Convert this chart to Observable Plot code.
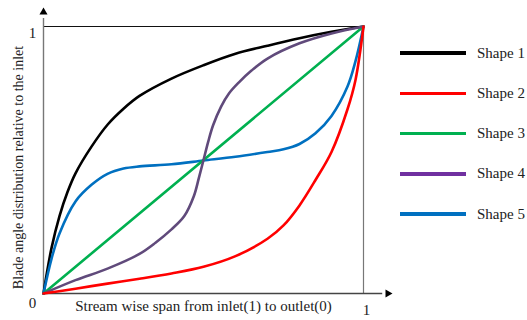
<!DOCTYPE html>
<html>
<head>
<meta charset="utf-8">
<script src="https://cdn.jsdelivr.net/npm/d3@7"></script>
<script src="https://cdn.jsdelivr.net/npm/@observablehq/plot@0.6"></script>
<style>
  body { margin: 0; background: #fff; }
  #chart { position: relative; width: 527px; height: 320px; }
  .legend { position: absolute; left: 400px; top: 0; font-family: "Liberation Serif", serif; font-size: 15px; color: #222; }
  .item { position: absolute; left: 0; display: flex; align-items: center; white-space: nowrap; height: 18px; }
  .swatch { width: 66px; height: 3.5px; margin-right: 11px; }
</style>
</head>
<body>
<div id="chart"></div>
<script>
// Blade angle distributions along the stream-wise span (normalised 0..1)
const shapeNames = ["Shape 1", "Shape 2", "Shape 3", "Shape 4", "Shape 5"];
const lineColors = ["#000000", "#ff0000", "#00b050", "#604a7b", "#0070c0"];
const legendColors = ["#000000", "#ff0000", "#00b050", "#7030a0", "#0070c0"];

const shape1X = [0, 0.025, 0.05, 0.075, 0.1, 0.15, 0.2, 0.25, 0.3, 0.4, 0.5, 0.6, 0.7, 0.8, 0.9, 1];
const shape1Y = [0, 0.17, 0.29, 0.38, 0.45, 0.55, 0.632, 0.692, 0.74, 0.805, 0.855, 0.898, 0.928, 0.956, 0.98, 1];

const shape2X = [0, 0.1, 0.2, 0.3, 0.4, 0.5, 0.6, 0.7, 0.75, 0.8, 0.85, 0.9, 0.95, 0.975, 1];
const shape2Y = [0, 0.018, 0.037, 0.055, 0.075, 0.1, 0.14, 0.205, 0.255, 0.33, 0.425, 0.53, 0.69, 0.8, 1];

const shape3X = [0, 1];
const shape3Y = [0, 1];

const shape4X = [0, 0.1, 0.2, 0.3, 0.35, 0.4, 0.44, 0.47, 0.485, 0.5, 0.515, 0.53, 0.555, 0.58, 0.61, 0.65, 0.7, 0.8, 0.9, 1];
const shape4Y = [0, 0.05, 0.093, 0.148, 0.19, 0.24, 0.29, 0.365, 0.43, 0.5, 0.57, 0.63, 0.7, 0.75, 0.79, 0.835, 0.88, 0.937, 0.974, 1];

const shape5X = [0, 0.025, 0.05, 0.1, 0.15, 0.2, 0.25, 0.3, 0.4, 0.5, 0.6, 0.7, 0.75, 0.8, 0.85, 0.9, 0.95, 0.975, 1];
const shape5Y = [0, 0.13, 0.225, 0.345, 0.407, 0.448, 0.468, 0.476, 0.484, 0.498, 0.512, 0.53, 0.54, 0.56, 0.6, 0.665, 0.775, 0.87, 1];

// Corner tick labels at the ends of the unit axes
const tickX = [0, 0, 1];
const tickY = [0, 1, 0];
const tickText = ["0", "1", "1"];

const xLabel = "Stream wise span from inlet(1) to outlet(0)";
const yLabel = "Blade angle distribution relative to the inlet";

const seriesX = [shape1X, shape2X, shape3X, shape4X, shape5X];
const seriesY = [shape1Y, shape2Y, shape3Y, shape4Y, shape5Y];
const rows = seriesX.flatMap((xs, i) =>
  xs.map((x, j) => ({ shape: shapeNames[i], x, y: seriesY[i][j] }))
);
const drawOrder = ["Shape 1", "Shape 5", "Shape 3", "Shape 4", "Shape 2"];
rows.sort((a, b) => drawOrder.indexOf(a.shape) - drawOrder.indexOf(b.shape));

const ticks = tickText.map((t, i) => ({ x: tickX[i], y: tickY[i], t }));
const tickOffsets = [[-11, 10], [-11, 7], [3, 17]];

// axis arrows run a little past the unit frame
const xAxisEnd = 1.06, xArrowAt = 1.076;
const yAxisEnd = 1.03, yArrowAt = 1.054;

const plot = Plot.plot({
  width: 527,
  height: 320,
  marginLeft: 43,
  marginRight: 164,
  marginTop: 26,
  marginBottom: 27,
  x: { domain: [0, 1], axis: null },
  y: { domain: [0, 1], axis: null },
  color: { domain: shapeNames, range: lineColors },
  style: { fontFamily: "'Liberation Serif', serif", fontSize: "15px", color: "#222", background: "#fff" },
  marks: [
    // frame: top and right edges
    Plot.ruleY([1], { x1: 0, x2: 1, stroke: "#111", strokeWidth: 1.2 }),
    Plot.ruleX([1], { y1: 0, y2: 1, stroke: "#777", strokeWidth: 1.2 }),
    // axes with arrowheads
    Plot.ruleX([0], { y1: 0, y2: yAxisEnd, stroke: "#777", strokeWidth: 1.4 }),
    Plot.ruleY([0], { x1: 0, x2: xAxisEnd, stroke: "#444", strokeWidth: 1.4 }),
    Plot.dot([0], { x: 0, y: yArrowAt, symbol: "triangle", r: 3, fill: "#000", stroke: "none" }),
    Plot.dot([0], { x: xArrowAt, y: 0, symbol: "triangle", r: 3, rotate: 90, fill: "#000", stroke: "none" }),
    // curves
    Plot.line(rows, { x: "x", y: "y", z: "shape", stroke: "shape", curve: "catmull-rom", strokeWidth: 2.6 }),
    // tick labels
    ...ticks.map((d, i) =>
      Plot.text([d], { x: "x", y: "y", text: "t", dx: tickOffsets[i][0], dy: tickOffsets[i][1], fontSize: 15, fill: "#222" })
    ),
    // axis titles
    Plot.text([xLabel], { frameAnchor: "bottom", dy: 17, fill: "#222" }),
    Plot.text([yLabel], { frameAnchor: "left", textAnchor: "middle", rotate: -90, dx: -25, dy: 7.5, fontSize: 14, fill: "#222" })
  ]
});

const chart = document.getElementById("chart");
chart.appendChild(plot);

// legend
const legend = document.createElement("div");
legend.className = "legend";
shapeNames.forEach((name, i) => {
  const item = document.createElement("div");
  item.className = "item";
  item.style.top = (44 + i * 40.25) + "px";
  const sw = document.createElement("div");
  sw.className = "swatch";
  sw.style.background = legendColors[i];
  const lab = document.createElement("span");
  lab.textContent = name;
  item.appendChild(sw);
  item.appendChild(lab);
  legend.appendChild(item);
});
chart.appendChild(legend);
</script>
</body>
</html>
